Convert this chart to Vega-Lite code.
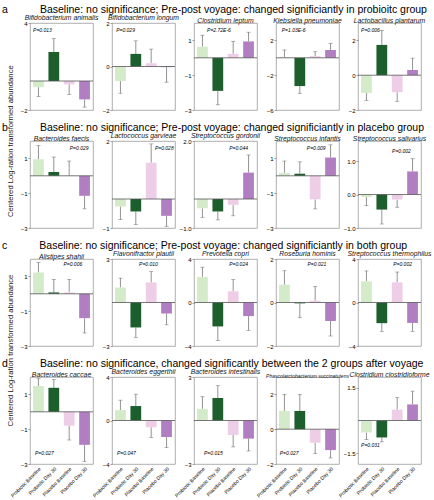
{
  "$schema": "https://vega.github.io/schema/vega-lite/v6.json",
  "padding": {"left": 2, "top": 4, "right": 0, "bottom": 0},
  "datasets": {
    "bars": [
      {"p":"a1","g":"Probiotic Baseline","v":-0.42,"e":-1.08},{"p":"a1","g":"Probiotic Day 30","v":2.0,"e":2.92},{"p":"a1","g":"Placebo Baseline","v":-0.23,"e":-0.92},{"p":"a1","g":"Placebo Day 30","v":-1.27,"e":-1.8},
      {"p":"a2","g":"Probiotic Baseline","v":-0.67,"e":-1.23},{"p":"a2","g":"Probiotic Day 30","v":0.58,"e":1.18},{"p":"a2","g":"Placebo Baseline","v":0.15,"e":0.8},{"p":"a2","g":"Placebo Day 30","v":-0.03,"e":-0.72},
      {"p":"a3","g":"Probiotic Baseline","v":0.64,"e":1.3},{"p":"a3","g":"Probiotic Day 30","v":-1.9,"e":-2.7},{"p":"a3","g":"Placebo Baseline","v":0.23,"e":0.95},{"p":"a3","g":"Placebo Day 30","v":0.94,"e":1.47},
      {"p":"a4","g":"Probiotic Baseline","v":0.08,"e":0.9},{"p":"a4","g":"Probiotic Day 30","v":-3.25,"e":-4.1},{"p":"a4","g":"Placebo Baseline","v":0.19,"e":0.7},{"p":"a4","g":"Placebo Day 30","v":0.9,"e":1.67},
      {"p":"a5","g":"Probiotic Baseline","v":-1.02,"e":-1.45},{"p":"a5","g":"Probiotic Day 30","v":1.74,"e":2.57},{"p":"a5","g":"Placebo Baseline","v":-0.98,"e":-1.5},{"p":"a5","g":"Placebo Day 30","v":0.3,"e":0.98},
      {"p":"b1","g":"Probiotic Baseline","v":0.95,"e":1.73},{"p":"b1","g":"Probiotic Day 30","v":0.22,"e":1.08},{"p":"b1","g":"Placebo Baseline","v":0.02,"e":0.85},{"p":"b1","g":"Placebo Day 30","v":-1.15,"e":-1.9},
      {"p":"b2","g":"Probiotic Baseline","v":-0.26,"e":-0.71},{"p":"b2","g":"Probiotic Day 30","v":-0.43,"e":-0.88},{"p":"b2","g":"Placebo Baseline","v":1.25,"e":1.9},{"p":"b2","g":"Placebo Day 30","v":-0.58,"e":-0.94},
      {"p":"b3","g":"Probiotic Baseline","v":-0.32,"e":-0.63},{"p":"b3","g":"Probiotic Day 30","v":-0.43,"e":-0.72},{"p":"b3","g":"Placebo Baseline","v":-0.2,"e":-0.58},{"p":"b3","g":"Placebo Day 30","v":0.91,"e":1.52},
      {"p":"b4","g":"Probiotic Baseline","v":0.17,"e":0.85},{"p":"b4","g":"Probiotic Day 30","v":0.12,"e":0.8},{"p":"b4","g":"Placebo Baseline","v":-1.35,"e":-1.9},{"p":"b4","g":"Placebo Day 30","v":1.05,"e":1.78},
      {"p":"b5","g":"Probiotic Baseline","v":-0.07,"e":-0.33},{"p":"b5","g":"Probiotic Day 30","v":-0.45,"e":-0.88},{"p":"b5","g":"Placebo Baseline","v":-0.15,"e":-0.38},{"p":"b5","g":"Placebo Day 30","v":0.69,"e":1.07},
      {"p":"c1","g":"Probiotic Baseline","v":1.22,"e":1.8},{"p":"c1","g":"Probiotic Day 30","v":0.08,"e":0.83},{"p":"c1","g":"Placebo Baseline","v":0.08,"e":0.83},{"p":"c1","g":"Placebo Day 30","v":-1.4,"e":-2.25},
      {"p":"c2","g":"Probiotic Baseline","v":1.03,"e":1.68},{"p":"c2","g":"Probiotic Day 30","v":-1.72,"e":-2.4},{"p":"c2","g":"Placebo Baseline","v":1.38,"e":2.13},{"p":"c2","g":"Placebo Day 30","v":-0.76,"e":-1.54},
      {"p":"c3","g":"Probiotic Baseline","v":2.35,"e":3.25},{"p":"c3","g":"Probiotic Day 30","v":-2.2,"e":-3.5},{"p":"c3","g":"Placebo Baseline","v":1.03,"e":2.1},{"p":"c3","g":"Placebo Day 30","v":-1.25,"e":-2.56},
      {"p":"c4","g":"Probiotic Baseline","v":0.82,"e":1.46},{"p":"c4","g":"Probiotic Day 30","v":-0.04,"e":-0.7},{"p":"c4","g":"Placebo Baseline","v":0.08,"e":0.74},{"p":"c4","g":"Placebo Day 30","v":-0.85,"e":-1.54},
      {"p":"c5","g":"Probiotic Baseline","v":1.94,"e":2.9},{"p":"c5","g":"Probiotic Day 30","v":-1.9,"e":-2.65},{"p":"c5","g":"Placebo Baseline","v":1.85,"e":2.8},{"p":"c5","g":"Placebo Day 30","v":-1.88,"e":-2.65},
      {"p":"d1","g":"Probiotic Baseline","v":1.48,"e":1.9},{"p":"d1","g":"Probiotic Day 30","v":1.38,"e":1.85},{"p":"d1","g":"Placebo Baseline","v":-0.8,"e":-1.62},{"p":"d1","g":"Placebo Day 30","v":-1.9,"e":-2.85},
      {"p":"d2","g":"Probiotic Baseline","v":0.95,"e":1.87},{"p":"d2","g":"Probiotic Day 30","v":1.33,"e":2.42},{"p":"d2","g":"Placebo Baseline","v":-0.62,"e":-1.55},{"p":"d2","g":"Placebo Day 30","v":-1.52,"e":-2.5},
      {"p":"d3","g":"Probiotic Baseline","v":0.8,"e":1.64},{"p":"d3","g":"Probiotic Day 30","v":1.55,"e":2.4},{"p":"d3","g":"Placebo Baseline","v":-1.0,"e":-1.82},{"p":"d3","g":"Placebo Day 30","v":-1.25,"e":-2.1},
      {"p":"d4","g":"Probiotic Baseline","v":1.05,"e":2.0},{"p":"d4","g":"Probiotic Day 30","v":1.05,"e":2.0},{"p":"d4","g":"Placebo Baseline","v":-0.78,"e":-1.4},{"p":"d4","g":"Placebo Day 30","v":-1.2,"e":-1.65},
      {"p":"d5","g":"Probiotic Baseline","v":-0.55,"e":-0.87},{"p":"d5","g":"Probiotic Day 30","v":-0.78,"e":-0.98},{"p":"d5","g":"Placebo Baseline","v":0.5,"e":1.05},{"p":"d5","g":"Placebo Day 30","v":0.74,"e":1.35}
    ],
    "ann": [
      {"p":"a1","t":"P=0.013","y":3.53},{"p":"a2","t":"P=0.029","y":1.69},{"p":"a3","t":"P=2.72E-6","y":1.61},{"p":"a4","t":"P=1.03E-6","y":3.22},{"p":"a5","t":"P=0.006","y":2.61},
      {"p":"b1","t":"P=0.029","y":1.62},{"p":"b2","t":"P=0.028","y":1.77},{"p":"b3","t":"P=0.044","y":1.77},{"p":"b4","t":"P=0.009","y":1.62},{"p":"b5","t":"P=0.002","y":1.31},
      {"p":"c1","t":"P=0.006","y":1.71},{"p":"c2","t":"P=0.010","y":2.65},{"p":"c3","t":"P=0.024","y":3.54},{"p":"c4","t":"P=0.021","y":1.77},{"p":"c5","t":"P=0.002","y":3.54},
      {"p":"d1","t":"P=0.027","y":-2.38},{"p":"d2","t":"P=0.047","y":-3.02},{"p":"d3","t":"P=0.015","y":-2.26},{"p":"d4","t":"P=0.027","y":-1.38},{"p":"d5","t":"P=0.031","y":-1.13}
    ]
  },
  "spacing": 8,
  "vconcat": [
    {
      "title": {"text": "Centered Log-ration transformed abundance", "orient": "left", "anchor": "middle", "fontSize": 7.7, "fontStyle": "normal", "offset": -13, "dx": -23, "color": "#222"},
      "spacing": 8,
      "vconcat": [
        {
          "title": {"text": "a\u00a0\u00a0\u00a0\u00a0\u00a0\u00a0\u00a0\u00a0\u00a0\u00a0\u00a0Baseline: no significance; Pre-post voyage: changed significiantly in probioitc group", "anchor": "start", "frame": "group", "dx": -28, "fontSize": 10.5, "fontStyle": "normal", "offset": -1, "color": "#000"},
          "bounds": "flush", "spacing": 19,
          "hconcat": [
            {"width":63,"height":87,"title":"Bifidobacterium animalis","data":{"name":"bars"},"transform":[{"filter":"datum.p=='a1'"}],"layer":[
              {"mark":{"type":"rule","color":"#666","strokeWidth":0.7},"encoding":{"x":{"field":"g","type":"nominal","scale":{"domain":["Probiotic Baseline","Probiotic Day 30","Placebo Baseline","Placebo Day 30"],"paddingInner":0.3,"paddingOuter":0.2},"axis":null},"y":{"field":"v","type":"quantitative","scale":{"domain":[-2,4]},"axis":{"values":[-2,0,2,4],"title":null}},"y2":{"field":"e"}}},
              {"mark":{"type":"tick","color":"#666","thickness":0.7,"size":4},"encoding":{"x":{"field":"g","type":"nominal","scale":{"domain":["Probiotic Baseline","Probiotic Day 30","Placebo Baseline","Placebo Day 30"],"paddingInner":0.3,"paddingOuter":0.2},"axis":null},"y":{"field":"e","type":"quantitative"}}},
              {"mark":"bar","encoding":{"x":{"field":"g","type":"nominal","scale":{"domain":["Probiotic Baseline","Probiotic Day 30","Placebo Baseline","Placebo Day 30"],"paddingInner":0.3,"paddingOuter":0.2},"axis":null},"y":{"field":"v","type":"quantitative"},"color":{"field":"g","type":"nominal","scale":{"domain":["Probiotic Baseline","Probiotic Day 30","Placebo Baseline","Placebo Day 30"],"range":["#d3ebc8","#1d5e2d","#eecde6","#b17ec1"]},"legend":null}}},
              {"data":{"name":"ann"},"transform":[{"filter":"datum.p=='a1'"}],"mark":{"type":"rule","color":"#555","strokeWidth":0.8},"encoding":{"y":{"datum":0}}},
              {"data":{"name":"ann"},"transform":[{"filter":"datum.p=='a1'"}],"mark":{"type":"text","align":"left"},"encoding":{"x":{"datum":"Probiotic Baseline","type":"nominal","bandPosition":0,"scale":{"domain":["Probiotic Baseline","Probiotic Day 30","Placebo Baseline","Placebo Day 30"],"paddingInner":0.3,"paddingOuter":0.2},"axis":null},"y":{"field":"y","type":"quantitative"},"text":{"field":"t"}}}
            ]},
            {"width":63,"height":87,"title":"Bifidobacterium longum","data":{"name":"bars"},"transform":[{"filter":"datum.p=='a2'"}],"layer":[
              {"mark":{"type":"rule","color":"#666","strokeWidth":0.7},"encoding":{"x":{"field":"g","type":"nominal","scale":{"domain":["Probiotic Baseline","Probiotic Day 30","Placebo Baseline","Placebo Day 30"],"paddingInner":0.3,"paddingOuter":0.2},"axis":null},"y":{"field":"v","type":"quantitative","scale":{"domain":[-2,2]},"axis":{"values":[-2,-1,0,1,2],"title":null}},"y2":{"field":"e"}}},
              {"mark":{"type":"tick","color":"#666","thickness":0.7,"size":4},"encoding":{"x":{"field":"g","type":"nominal","scale":{"domain":["Probiotic Baseline","Probiotic Day 30","Placebo Baseline","Placebo Day 30"],"paddingInner":0.3,"paddingOuter":0.2},"axis":null},"y":{"field":"e","type":"quantitative"}}},
              {"mark":"bar","encoding":{"x":{"field":"g","type":"nominal","scale":{"domain":["Probiotic Baseline","Probiotic Day 30","Placebo Baseline","Placebo Day 30"],"paddingInner":0.3,"paddingOuter":0.2},"axis":null},"y":{"field":"v","type":"quantitative"},"color":{"field":"g","type":"nominal","scale":{"domain":["Probiotic Baseline","Probiotic Day 30","Placebo Baseline","Placebo Day 30"],"range":["#d3ebc8","#1d5e2d","#eecde6","#b17ec1"]},"legend":null}}},
              {"data":{"name":"ann"},"transform":[{"filter":"datum.p=='a2'"}],"mark":{"type":"rule","color":"#555","strokeWidth":0.8},"encoding":{"y":{"datum":0}}},
              {"data":{"name":"ann"},"transform":[{"filter":"datum.p=='a2'"}],"mark":{"type":"text","align":"left"},"encoding":{"x":{"datum":"Probiotic Baseline","type":"nominal","bandPosition":0.1,"scale":{"domain":["Probiotic Baseline","Probiotic Day 30","Placebo Baseline","Placebo Day 30"],"paddingInner":0.3,"paddingOuter":0.2},"axis":null},"y":{"field":"y","type":"quantitative"},"text":{"field":"t"}}}
            ]},
            {"width":63,"height":87,"title":"Clostridium leptum","data":{"name":"bars"},"transform":[{"filter":"datum.p=='a3'"}],"layer":[
              {"mark":{"type":"rule","color":"#666","strokeWidth":0.7},"encoding":{"x":{"field":"g","type":"nominal","scale":{"domain":["Probiotic Baseline","Probiotic Day 30","Placebo Baseline","Placebo Day 30"],"paddingInner":0.3,"paddingOuter":0.2},"axis":null},"y":{"field":"v","type":"quantitative","scale":{"domain":[-3,2]},"axis":{"values":[-3,-2,-1,0,1,2],"title":null}},"y2":{"field":"e"}}},
              {"mark":{"type":"tick","color":"#666","thickness":0.7,"size":4},"encoding":{"x":{"field":"g","type":"nominal","scale":{"domain":["Probiotic Baseline","Probiotic Day 30","Placebo Baseline","Placebo Day 30"],"paddingInner":0.3,"paddingOuter":0.2},"axis":null},"y":{"field":"e","type":"quantitative"}}},
              {"mark":"bar","encoding":{"x":{"field":"g","type":"nominal","scale":{"domain":["Probiotic Baseline","Probiotic Day 30","Placebo Baseline","Placebo Day 30"],"paddingInner":0.3,"paddingOuter":0.2},"axis":null},"y":{"field":"v","type":"quantitative"},"color":{"field":"g","type":"nominal","scale":{"domain":["Probiotic Baseline","Probiotic Day 30","Placebo Baseline","Placebo Day 30"],"range":["#d3ebc8","#1d5e2d","#eecde6","#b17ec1"]},"legend":null}}},
              {"data":{"name":"ann"},"transform":[{"filter":"datum.p=='a3'"}],"mark":{"type":"rule","color":"#555","strokeWidth":0.8},"encoding":{"y":{"datum":0}}},
              {"data":{"name":"ann"},"transform":[{"filter":"datum.p=='a3'"}],"mark":{"type":"text","align":"left"},"encoding":{"x":{"datum":"Probiotic Baseline","type":"nominal","bandPosition":0.93,"scale":{"domain":["Probiotic Baseline","Probiotic Day 30","Placebo Baseline","Placebo Day 30"],"paddingInner":0.3,"paddingOuter":0.2},"axis":null},"y":{"field":"y","type":"quantitative"},"text":{"field":"t"}}}
            ]},
            {"width":63,"height":87,"title":"Klebsiella pneumoniae","data":{"name":"bars"},"transform":[{"filter":"datum.p=='a4'"}],"layer":[
              {"mark":{"type":"rule","color":"#666","strokeWidth":0.7},"encoding":{"x":{"field":"g","type":"nominal","scale":{"domain":["Probiotic Baseline","Probiotic Day 30","Placebo Baseline","Placebo Day 30"],"paddingInner":0.3,"paddingOuter":0.2},"axis":null},"y":{"field":"v","type":"quantitative","scale":{"domain":[-6,4]},"axis":{"values":[-6,-4,-2,0,2,4],"title":null}},"y2":{"field":"e"}}},
              {"mark":{"type":"tick","color":"#666","thickness":0.7,"size":4},"encoding":{"x":{"field":"g","type":"nominal","scale":{"domain":["Probiotic Baseline","Probiotic Day 30","Placebo Baseline","Placebo Day 30"],"paddingInner":0.3,"paddingOuter":0.2},"axis":null},"y":{"field":"e","type":"quantitative"}}},
              {"mark":"bar","encoding":{"x":{"field":"g","type":"nominal","scale":{"domain":["Probiotic Baseline","Probiotic Day 30","Placebo Baseline","Placebo Day 30"],"paddingInner":0.3,"paddingOuter":0.2},"axis":null},"y":{"field":"v","type":"quantitative"},"color":{"field":"g","type":"nominal","scale":{"domain":["Probiotic Baseline","Probiotic Day 30","Placebo Baseline","Placebo Day 30"],"range":["#d3ebc8","#1d5e2d","#eecde6","#b17ec1"]},"legend":null}}},
              {"data":{"name":"ann"},"transform":[{"filter":"datum.p=='a4'"}],"mark":{"type":"rule","color":"#555","strokeWidth":0.8},"encoding":{"y":{"datum":0}}},
              {"data":{"name":"ann"},"transform":[{"filter":"datum.p=='a4'"}],"mark":{"type":"text","align":"left"},"encoding":{"x":{"datum":"Probiotic Baseline","type":"nominal","bandPosition":0.25,"scale":{"domain":["Probiotic Baseline","Probiotic Day 30","Placebo Baseline","Placebo Day 30"],"paddingInner":0.3,"paddingOuter":0.2},"axis":null},"y":{"field":"y","type":"quantitative"},"text":{"field":"t"}}}
            ]},
            {"width":63,"height":87,"title":"Lactobacillus plantarum","data":{"name":"bars"},"transform":[{"filter":"datum.p=='a5'"}],"layer":[
              {"mark":{"type":"rule","color":"#666","strokeWidth":0.7},"encoding":{"x":{"field":"g","type":"nominal","scale":{"domain":["Probiotic Baseline","Probiotic Day 30","Placebo Baseline","Placebo Day 30"],"paddingInner":0.3,"paddingOuter":0.2},"axis":null},"y":{"field":"v","type":"quantitative","scale":{"domain":[-2,3]},"axis":{"values":[-2,-1,0,1,2,3],"title":null}},"y2":{"field":"e"}}},
              {"mark":{"type":"tick","color":"#666","thickness":0.7,"size":4},"encoding":{"x":{"field":"g","type":"nominal","scale":{"domain":["Probiotic Baseline","Probiotic Day 30","Placebo Baseline","Placebo Day 30"],"paddingInner":0.3,"paddingOuter":0.2},"axis":null},"y":{"field":"e","type":"quantitative"}}},
              {"mark":"bar","encoding":{"x":{"field":"g","type":"nominal","scale":{"domain":["Probiotic Baseline","Probiotic Day 30","Placebo Baseline","Placebo Day 30"],"paddingInner":0.3,"paddingOuter":0.2},"axis":null},"y":{"field":"v","type":"quantitative"},"color":{"field":"g","type":"nominal","scale":{"domain":["Probiotic Baseline","Probiotic Day 30","Placebo Baseline","Placebo Day 30"],"range":["#d3ebc8","#1d5e2d","#eecde6","#b17ec1"]},"legend":null}}},
              {"data":{"name":"ann"},"transform":[{"filter":"datum.p=='a5'"}],"mark":{"type":"rule","color":"#555","strokeWidth":0.8},"encoding":{"y":{"datum":0}}},
              {"data":{"name":"ann"},"transform":[{"filter":"datum.p=='a5'"}],"mark":{"type":"text","align":"left"},"encoding":{"x":{"datum":"Probiotic Baseline","type":"nominal","bandPosition":0,"scale":{"domain":["Probiotic Baseline","Probiotic Day 30","Placebo Baseline","Placebo Day 30"],"paddingInner":0.3,"paddingOuter":0.2},"axis":null},"y":{"field":"y","type":"quantitative"},"text":{"field":"t"}}}
            ]}
          ]
        },
        {
          "title": {"text": "b\u00a0\u00a0\u00a0\u00a0\u00a0\u00a0\u00a0\u00a0\u00a0\u00a0\u00a0Baseline: no significance; Pre-post voyage: changed significiantly in placebo group", "anchor": "start", "frame": "group", "dx": -28, "fontSize": 10.5, "fontStyle": "normal", "offset": -1, "color": "#000"},
          "bounds": "flush", "spacing": 19,
          "hconcat": [
            {"width":63,"height":87,"title":"Bacteroides faecis","data":{"name":"bars"},"transform":[{"filter":"datum.p=='b1'"}],"layer":[
              {"mark":{"type":"rule","color":"#666","strokeWidth":0.7},"encoding":{"x":{"field":"g","type":"nominal","scale":{"domain":["Probiotic Baseline","Probiotic Day 30","Placebo Baseline","Placebo Day 30"],"paddingInner":0.3,"paddingOuter":0.2},"axis":null},"y":{"field":"v","type":"quantitative","scale":{"domain":[-3,2]},"axis":{"values":[-3,-2,-1,0,1,2],"title":null}},"y2":{"field":"e"}}},
              {"mark":{"type":"tick","color":"#666","thickness":0.7,"size":4},"encoding":{"x":{"field":"g","type":"nominal","scale":{"domain":["Probiotic Baseline","Probiotic Day 30","Placebo Baseline","Placebo Day 30"],"paddingInner":0.3,"paddingOuter":0.2},"axis":null},"y":{"field":"e","type":"quantitative"}}},
              {"mark":"bar","encoding":{"x":{"field":"g","type":"nominal","scale":{"domain":["Probiotic Baseline","Probiotic Day 30","Placebo Baseline","Placebo Day 30"],"paddingInner":0.3,"paddingOuter":0.2},"axis":null},"y":{"field":"v","type":"quantitative"},"color":{"field":"g","type":"nominal","scale":{"domain":["Probiotic Baseline","Probiotic Day 30","Placebo Baseline","Placebo Day 30"],"range":["#d3ebc8","#1d5e2d","#eecde6","#b17ec1"]},"legend":null}}},
              {"data":{"name":"ann"},"transform":[{"filter":"datum.p=='b1'"}],"mark":{"type":"rule","color":"#555","strokeWidth":0.8},"encoding":{"y":{"datum":0}}},
              {"data":{"name":"ann"},"transform":[{"filter":"datum.p=='b1'"}],"mark":{"type":"text","align":"center"},"encoding":{"x":{"datum":"Placebo Day 30","type":"nominal","bandPosition":0,"scale":{"domain":["Probiotic Baseline","Probiotic Day 30","Placebo Baseline","Placebo Day 30"],"paddingInner":0.3,"paddingOuter":0.2},"axis":null},"y":{"field":"y","type":"quantitative"},"text":{"field":"t"}}}
            ]},
            {"width":63,"height":87,"title":"Lactococcus garvieae","data":{"name":"bars"},"transform":[{"filter":"datum.p=='b2'"}],"layer":[
              {"mark":{"type":"rule","color":"#666","strokeWidth":0.7},"encoding":{"x":{"field":"g","type":"nominal","scale":{"domain":["Probiotic Baseline","Probiotic Day 30","Placebo Baseline","Placebo Day 30"],"paddingInner":0.3,"paddingOuter":0.2},"axis":null},"y":{"field":"v","type":"quantitative","scale":{"domain":[-1,2]},"axis":{"values":[-1,0,1,2],"title":null}},"y2":{"field":"e"}}},
              {"mark":{"type":"tick","color":"#666","thickness":0.7,"size":4},"encoding":{"x":{"field":"g","type":"nominal","scale":{"domain":["Probiotic Baseline","Probiotic Day 30","Placebo Baseline","Placebo Day 30"],"paddingInner":0.3,"paddingOuter":0.2},"axis":null},"y":{"field":"e","type":"quantitative"}}},
              {"mark":"bar","encoding":{"x":{"field":"g","type":"nominal","scale":{"domain":["Probiotic Baseline","Probiotic Day 30","Placebo Baseline","Placebo Day 30"],"paddingInner":0.3,"paddingOuter":0.2},"axis":null},"y":{"field":"v","type":"quantitative"},"color":{"field":"g","type":"nominal","scale":{"domain":["Probiotic Baseline","Probiotic Day 30","Placebo Baseline","Placebo Day 30"],"range":["#d3ebc8","#1d5e2d","#eecde6","#b17ec1"]},"legend":null}}},
              {"data":{"name":"ann"},"transform":[{"filter":"datum.p=='b2'"}],"mark":{"type":"rule","color":"#555","strokeWidth":0.8},"encoding":{"y":{"datum":0}}},
              {"data":{"name":"ann"},"transform":[{"filter":"datum.p=='b2'"}],"mark":{"type":"text","align":"center"},"encoding":{"x":{"datum":"Placebo Day 30","type":"nominal","bandPosition":0.29,"scale":{"domain":["Probiotic Baseline","Probiotic Day 30","Placebo Baseline","Placebo Day 30"],"paddingInner":0.3,"paddingOuter":0.2},"axis":null},"y":{"field":"y","type":"quantitative"},"text":{"field":"t"}}}
            ]},
            {"width":63,"height":87,"title":"Streptococcus gordonii","data":{"name":"bars"},"transform":[{"filter":"datum.p=='b3'"}],"layer":[
              {"mark":{"type":"rule","color":"#666","strokeWidth":0.7},"encoding":{"x":{"field":"g","type":"nominal","scale":{"domain":["Probiotic Baseline","Probiotic Day 30","Placebo Baseline","Placebo Day 30"],"paddingInner":0.3,"paddingOuter":0.2},"axis":null},"y":{"field":"v","type":"quantitative","scale":{"domain":[-1,2]},"axis":{"values":[-1,-0.5,0,0.5,1,1.5,2],"format":".1f","title":null}},"y2":{"field":"e"}}},
              {"mark":{"type":"tick","color":"#666","thickness":0.7,"size":4},"encoding":{"x":{"field":"g","type":"nominal","scale":{"domain":["Probiotic Baseline","Probiotic Day 30","Placebo Baseline","Placebo Day 30"],"paddingInner":0.3,"paddingOuter":0.2},"axis":null},"y":{"field":"e","type":"quantitative"}}},
              {"mark":"bar","encoding":{"x":{"field":"g","type":"nominal","scale":{"domain":["Probiotic Baseline","Probiotic Day 30","Placebo Baseline","Placebo Day 30"],"paddingInner":0.3,"paddingOuter":0.2},"axis":null},"y":{"field":"v","type":"quantitative"},"color":{"field":"g","type":"nominal","scale":{"domain":["Probiotic Baseline","Probiotic Day 30","Placebo Baseline","Placebo Day 30"],"range":["#d3ebc8","#1d5e2d","#eecde6","#b17ec1"]},"legend":null}}},
              {"data":{"name":"ann"},"transform":[{"filter":"datum.p=='b3'"}],"mark":{"type":"rule","color":"#555","strokeWidth":0.8},"encoding":{"y":{"datum":0}}},
              {"data":{"name":"ann"},"transform":[{"filter":"datum.p=='b3'"}],"mark":{"type":"text","align":"center"},"encoding":{"x":{"datum":"Placebo Baseline","type":"nominal","bandPosition":1,"scale":{"domain":["Probiotic Baseline","Probiotic Day 30","Placebo Baseline","Placebo Day 30"],"paddingInner":0.3,"paddingOuter":0.2},"axis":null},"y":{"field":"y","type":"quantitative"},"text":{"field":"t"}}}
            ]},
            {"width":63,"height":87,"title":"Streptococcus infantis","data":{"name":"bars"},"transform":[{"filter":"datum.p=='b4'"}],"layer":[
              {"mark":{"type":"rule","color":"#666","strokeWidth":0.7},"encoding":{"x":{"field":"g","type":"nominal","scale":{"domain":["Probiotic Baseline","Probiotic Day 30","Placebo Baseline","Placebo Day 30"],"paddingInner":0.3,"paddingOuter":0.2},"axis":null},"y":{"field":"v","type":"quantitative","scale":{"domain":[-3,2]},"axis":{"values":[-3,-2,-1,0,1,2],"title":null}},"y2":{"field":"e"}}},
              {"mark":{"type":"tick","color":"#666","thickness":0.7,"size":4},"encoding":{"x":{"field":"g","type":"nominal","scale":{"domain":["Probiotic Baseline","Probiotic Day 30","Placebo Baseline","Placebo Day 30"],"paddingInner":0.3,"paddingOuter":0.2},"axis":null},"y":{"field":"e","type":"quantitative"}}},
              {"mark":"bar","encoding":{"x":{"field":"g","type":"nominal","scale":{"domain":["Probiotic Baseline","Probiotic Day 30","Placebo Baseline","Placebo Day 30"],"paddingInner":0.3,"paddingOuter":0.2},"axis":null},"y":{"field":"v","type":"quantitative"},"color":{"field":"g","type":"nominal","scale":{"domain":["Probiotic Baseline","Probiotic Day 30","Placebo Baseline","Placebo Day 30"],"range":["#d3ebc8","#1d5e2d","#eecde6","#b17ec1"]},"legend":null}}},
              {"data":{"name":"ann"},"transform":[{"filter":"datum.p=='b4'"}],"mark":{"type":"rule","color":"#555","strokeWidth":0.8},"encoding":{"y":{"datum":0}}},
              {"data":{"name":"ann"},"transform":[{"filter":"datum.p=='b4'"}],"mark":{"type":"text","align":"center"},"encoding":{"x":{"datum":"Placebo Baseline","type":"nominal","bandPosition":0.6,"scale":{"domain":["Probiotic Baseline","Probiotic Day 30","Placebo Baseline","Placebo Day 30"],"paddingInner":0.3,"paddingOuter":0.2},"axis":null},"y":{"field":"y","type":"quantitative"},"text":{"field":"t"}}}
            ]},
            {"width":63,"height":87,"title":"Streptococcus salivarius","data":{"name":"bars"},"transform":[{"filter":"datum.p=='b5'"}],"layer":[
              {"mark":{"type":"rule","color":"#666","strokeWidth":0.7},"encoding":{"x":{"field":"g","type":"nominal","scale":{"domain":["Probiotic Baseline","Probiotic Day 30","Placebo Baseline","Placebo Day 30"],"paddingInner":0.3,"paddingOuter":0.2},"axis":null},"y":{"field":"v","type":"quantitative","scale":{"domain":[-1,1.5]},"axis":{"values":[-1,-0.5,0,0.5,1,1.5],"format":".1f","title":null}},"y2":{"field":"e"}}},
              {"mark":{"type":"tick","color":"#666","thickness":0.7,"size":4},"encoding":{"x":{"field":"g","type":"nominal","scale":{"domain":["Probiotic Baseline","Probiotic Day 30","Placebo Baseline","Placebo Day 30"],"paddingInner":0.3,"paddingOuter":0.2},"axis":null},"y":{"field":"e","type":"quantitative"}}},
              {"mark":"bar","encoding":{"x":{"field":"g","type":"nominal","scale":{"domain":["Probiotic Baseline","Probiotic Day 30","Placebo Baseline","Placebo Day 30"],"paddingInner":0.3,"paddingOuter":0.2},"axis":null},"y":{"field":"v","type":"quantitative"},"color":{"field":"g","type":"nominal","scale":{"domain":["Probiotic Baseline","Probiotic Day 30","Placebo Baseline","Placebo Day 30"],"range":["#d3ebc8","#1d5e2d","#eecde6","#b17ec1"]},"legend":null}}},
              {"data":{"name":"ann"},"transform":[{"filter":"datum.p=='b5'"}],"mark":{"type":"rule","color":"#555","strokeWidth":0.8},"encoding":{"y":{"datum":0}}},
              {"data":{"name":"ann"},"transform":[{"filter":"datum.p=='b5'"}],"mark":{"type":"text","align":"center"},"encoding":{"x":{"datum":"Placebo Baseline","type":"nominal","bandPosition":0.9,"scale":{"domain":["Probiotic Baseline","Probiotic Day 30","Placebo Baseline","Placebo Day 30"],"paddingInner":0.3,"paddingOuter":0.2},"axis":null},"y":{"field":"y","type":"quantitative"},"text":{"field":"t"}}}
            ]}
          ]
        }
      ]
    },
    {
      "title": {"text": "Centered Log-ration transformed abundance", "orient": "left", "anchor": "middle", "fontSize": 7.7, "fontStyle": "normal", "offset": -13, "dx": 19, "color": "#222"},
      "spacing": 8,
      "vconcat": [
        {
          "title": {"text": "c\u00a0\u00a0\u00a0\u00a0\u00a0\u00a0\u00a0\u00a0\u00a0\u00a0\u00a0Baseline: no significance; Pre-post voyage: changed significiantly in both group", "anchor": "start", "frame": "group", "dx": -28, "fontSize": 10.5, "fontStyle": "normal", "offset": -1, "color": "#000"},
          "bounds": "flush", "spacing": 19,
          "hconcat": [
            {"width":63,"height":87,"title":"Alistipes shahii","data":{"name":"bars"},"transform":[{"filter":"datum.p=='c1'"}],"layer":[
              {"mark":{"type":"rule","color":"#666","strokeWidth":0.7},"encoding":{"x":{"field":"g","type":"nominal","scale":{"domain":["Probiotic Baseline","Probiotic Day 30","Placebo Baseline","Placebo Day 30"],"paddingInner":0.3,"paddingOuter":0.2},"axis":null},"y":{"field":"v","type":"quantitative","scale":{"domain":[-3,2]},"axis":{"values":[-3,-2,-1,0,1,2],"title":null}},"y2":{"field":"e"}}},
              {"mark":{"type":"tick","color":"#666","thickness":0.7,"size":4},"encoding":{"x":{"field":"g","type":"nominal","scale":{"domain":["Probiotic Baseline","Probiotic Day 30","Placebo Baseline","Placebo Day 30"],"paddingInner":0.3,"paddingOuter":0.2},"axis":null},"y":{"field":"e","type":"quantitative"}}},
              {"mark":"bar","encoding":{"x":{"field":"g","type":"nominal","scale":{"domain":["Probiotic Baseline","Probiotic Day 30","Placebo Baseline","Placebo Day 30"],"paddingInner":0.3,"paddingOuter":0.2},"axis":null},"y":{"field":"v","type":"quantitative"},"color":{"field":"g","type":"nominal","scale":{"domain":["Probiotic Baseline","Probiotic Day 30","Placebo Baseline","Placebo Day 30"],"range":["#d3ebc8","#1d5e2d","#eecde6","#b17ec1"]},"legend":null}}},
              {"data":{"name":"ann"},"transform":[{"filter":"datum.p=='c1'"}],"mark":{"type":"rule","color":"#555","strokeWidth":0.8},"encoding":{"y":{"datum":0}}},
              {"data":{"name":"ann"},"transform":[{"filter":"datum.p=='c1'"}],"mark":{"type":"text","align":"center"},"encoding":{"x":{"datum":"Placebo Baseline","type":"nominal","bandPosition":0.84,"scale":{"domain":["Probiotic Baseline","Probiotic Day 30","Placebo Baseline","Placebo Day 30"],"paddingInner":0.3,"paddingOuter":0.2},"axis":null},"y":{"field":"y","type":"quantitative"},"text":{"field":"t"}}}
            ]},
            {"width":63,"height":87,"title":"Flavonifractor plautii","data":{"name":"bars"},"transform":[{"filter":"datum.p=='c2'"}],"layer":[
              {"mark":{"type":"rule","color":"#666","strokeWidth":0.7},"encoding":{"x":{"field":"g","type":"nominal","scale":{"domain":["Probiotic Baseline","Probiotic Day 30","Placebo Baseline","Placebo Day 30"],"paddingInner":0.3,"paddingOuter":0.2},"axis":null},"y":{"field":"v","type":"quantitative","scale":{"domain":[-3,3]},"axis":{"values":[-3,-2,-1,0,1,2,3],"title":null}},"y2":{"field":"e"}}},
              {"mark":{"type":"tick","color":"#666","thickness":0.7,"size":4},"encoding":{"x":{"field":"g","type":"nominal","scale":{"domain":["Probiotic Baseline","Probiotic Day 30","Placebo Baseline","Placebo Day 30"],"paddingInner":0.3,"paddingOuter":0.2},"axis":null},"y":{"field":"e","type":"quantitative"}}},
              {"mark":"bar","encoding":{"x":{"field":"g","type":"nominal","scale":{"domain":["Probiotic Baseline","Probiotic Day 30","Placebo Baseline","Placebo Day 30"],"paddingInner":0.3,"paddingOuter":0.2},"axis":null},"y":{"field":"v","type":"quantitative"},"color":{"field":"g","type":"nominal","scale":{"domain":["Probiotic Baseline","Probiotic Day 30","Placebo Baseline","Placebo Day 30"],"range":["#d3ebc8","#1d5e2d","#eecde6","#b17ec1"]},"legend":null}}},
              {"data":{"name":"ann"},"transform":[{"filter":"datum.p=='c2'"}],"mark":{"type":"rule","color":"#555","strokeWidth":0.8},"encoding":{"y":{"datum":0}}},
              {"data":{"name":"ann"},"transform":[{"filter":"datum.p=='c2'"}],"mark":{"type":"text","align":"center"},"encoding":{"x":{"datum":"Placebo Baseline","type":"nominal","bandPosition":0.25,"scale":{"domain":["Probiotic Baseline","Probiotic Day 30","Placebo Baseline","Placebo Day 30"],"paddingInner":0.3,"paddingOuter":0.2},"axis":null},"y":{"field":"y","type":"quantitative"},"text":{"field":"t"}}}
            ]},
            {"width":63,"height":87,"title":"Prevotella copri","data":{"name":"bars"},"transform":[{"filter":"datum.p=='c3'"}],"layer":[
              {"mark":{"type":"rule","color":"#666","strokeWidth":0.7},"encoding":{"x":{"field":"g","type":"nominal","scale":{"domain":["Probiotic Baseline","Probiotic Day 30","Placebo Baseline","Placebo Day 30"],"paddingInner":0.3,"paddingOuter":0.2},"axis":null},"y":{"field":"v","type":"quantitative","scale":{"domain":[-4,4]},"axis":{"values":[-4,-2,0,2,4],"title":null}},"y2":{"field":"e"}}},
              {"mark":{"type":"tick","color":"#666","thickness":0.7,"size":4},"encoding":{"x":{"field":"g","type":"nominal","scale":{"domain":["Probiotic Baseline","Probiotic Day 30","Placebo Baseline","Placebo Day 30"],"paddingInner":0.3,"paddingOuter":0.2},"axis":null},"y":{"field":"e","type":"quantitative"}}},
              {"mark":"bar","encoding":{"x":{"field":"g","type":"nominal","scale":{"domain":["Probiotic Baseline","Probiotic Day 30","Placebo Baseline","Placebo Day 30"],"paddingInner":0.3,"paddingOuter":0.2},"axis":null},"y":{"field":"v","type":"quantitative"},"color":{"field":"g","type":"nominal","scale":{"domain":["Probiotic Baseline","Probiotic Day 30","Placebo Baseline","Placebo Day 30"],"range":["#d3ebc8","#1d5e2d","#eecde6","#b17ec1"]},"legend":null}}},
              {"data":{"name":"ann"},"transform":[{"filter":"datum.p=='c3'"}],"mark":{"type":"rule","color":"#555","strokeWidth":0.8},"encoding":{"y":{"datum":0}}},
              {"data":{"name":"ann"},"transform":[{"filter":"datum.p=='c3'"}],"mark":{"type":"text","align":"center"},"encoding":{"x":{"datum":"Placebo Baseline","type":"nominal","bandPosition":1,"scale":{"domain":["Probiotic Baseline","Probiotic Day 30","Placebo Baseline","Placebo Day 30"],"paddingInner":0.3,"paddingOuter":0.2},"axis":null},"y":{"field":"y","type":"quantitative"},"text":{"field":"t"}}}
            ]},
            {"width":63,"height":87,"title":"Roseburia hominis","data":{"name":"bars"},"transform":[{"filter":"datum.p=='c4'"}],"layer":[
              {"mark":{"type":"rule","color":"#666","strokeWidth":0.7},"encoding":{"x":{"field":"g","type":"nominal","scale":{"domain":["Probiotic Baseline","Probiotic Day 30","Placebo Baseline","Placebo Day 30"],"paddingInner":0.3,"paddingOuter":0.2},"axis":null},"y":{"field":"v","type":"quantitative","scale":{"domain":[-2,2]},"axis":{"values":[-2,-1,0,1,2],"title":null}},"y2":{"field":"e"}}},
              {"mark":{"type":"tick","color":"#666","thickness":0.7,"size":4},"encoding":{"x":{"field":"g","type":"nominal","scale":{"domain":["Probiotic Baseline","Probiotic Day 30","Placebo Baseline","Placebo Day 30"],"paddingInner":0.3,"paddingOuter":0.2},"axis":null},"y":{"field":"e","type":"quantitative"}}},
              {"mark":"bar","encoding":{"x":{"field":"g","type":"nominal","scale":{"domain":["Probiotic Baseline","Probiotic Day 30","Placebo Baseline","Placebo Day 30"],"paddingInner":0.3,"paddingOuter":0.2},"axis":null},"y":{"field":"v","type":"quantitative"},"color":{"field":"g","type":"nominal","scale":{"domain":["Probiotic Baseline","Probiotic Day 30","Placebo Baseline","Placebo Day 30"],"range":["#d3ebc8","#1d5e2d","#eecde6","#b17ec1"]},"legend":null}}},
              {"data":{"name":"ann"},"transform":[{"filter":"datum.p=='c4'"}],"mark":{"type":"rule","color":"#555","strokeWidth":0.8},"encoding":{"y":{"datum":0}}},
              {"data":{"name":"ann"},"transform":[{"filter":"datum.p=='c4'"}],"mark":{"type":"text","align":"center"},"encoding":{"x":{"datum":"Placebo Baseline","type":"nominal","bandPosition":0.66,"scale":{"domain":["Probiotic Baseline","Probiotic Day 30","Placebo Baseline","Placebo Day 30"],"paddingInner":0.3,"paddingOuter":0.2},"axis":null},"y":{"field":"y","type":"quantitative"},"text":{"field":"t"}}}
            ]},
            {"width":63,"height":87,"title":"Streptococcus thermophilus","data":{"name":"bars"},"transform":[{"filter":"datum.p=='c5'"}],"layer":[
              {"mark":{"type":"rule","color":"#666","strokeWidth":0.7},"encoding":{"x":{"field":"g","type":"nominal","scale":{"domain":["Probiotic Baseline","Probiotic Day 30","Placebo Baseline","Placebo Day 30"],"paddingInner":0.3,"paddingOuter":0.2},"axis":null},"y":{"field":"v","type":"quantitative","scale":{"domain":[-4,4]},"axis":{"values":[-4,-2,0,2,4],"title":null}},"y2":{"field":"e"}}},
              {"mark":{"type":"tick","color":"#666","thickness":0.7,"size":4},"encoding":{"x":{"field":"g","type":"nominal","scale":{"domain":["Probiotic Baseline","Probiotic Day 30","Placebo Baseline","Placebo Day 30"],"paddingInner":0.3,"paddingOuter":0.2},"axis":null},"y":{"field":"e","type":"quantitative"}}},
              {"mark":"bar","encoding":{"x":{"field":"g","type":"nominal","scale":{"domain":["Probiotic Baseline","Probiotic Day 30","Placebo Baseline","Placebo Day 30"],"paddingInner":0.3,"paddingOuter":0.2},"axis":null},"y":{"field":"v","type":"quantitative"},"color":{"field":"g","type":"nominal","scale":{"domain":["Probiotic Baseline","Probiotic Day 30","Placebo Baseline","Placebo Day 30"],"range":["#d3ebc8","#1d5e2d","#eecde6","#b17ec1"]},"legend":null}}},
              {"data":{"name":"ann"},"transform":[{"filter":"datum.p=='c5'"}],"mark":{"type":"rule","color":"#555","strokeWidth":0.8},"encoding":{"y":{"datum":0}}},
              {"data":{"name":"ann"},"transform":[{"filter":"datum.p=='c5'"}],"mark":{"type":"text","align":"center"},"encoding":{"x":{"datum":"Placebo Baseline","type":"nominal","bandPosition":1,"scale":{"domain":["Probiotic Baseline","Probiotic Day 30","Placebo Baseline","Placebo Day 30"],"paddingInner":0.3,"paddingOuter":0.2},"axis":null},"y":{"field":"y","type":"quantitative"},"text":{"field":"t"}}}
            ]}
          ]
        },
        {
          "title": {"text": "d\u00a0\u00a0\u00a0\u00a0\u00a0\u00a0\u00a0\u00a0\u00a0\u00a0\u00a0Baseline: no significance, changed significantly between the 2 groups after voyage", "anchor": "start", "frame": "group", "dx": -28, "fontSize": 10.5, "fontStyle": "normal", "offset": -1, "color": "#000"},
          "bounds": "flush", "spacing": 19,
          "hconcat": [
            {"width":63,"height":87,"title":"Bacteroides caccae","data":{"name":"bars"},"transform":[{"filter":"datum.p=='d1'"}],"layer":[
              {"mark":{"type":"rule","color":"#666","strokeWidth":0.7},"encoding":{"x":{"field":"g","type":"nominal","scale":{"domain":["Probiotic Baseline","Probiotic Day 30","Placebo Baseline","Placebo Day 30"],"paddingInner":0.3,"paddingOuter":0.2},"axis":{"title":null,"labelAngle":-45,"labelFontSize":5,"ticks":false,"domain":false,"labelPadding":2}},"y":{"field":"v","type":"quantitative","scale":{"domain":[-3,2]},"axis":{"values":[-3,-2,-1,0,1,2],"title":null}},"y2":{"field":"e"}}},
              {"mark":{"type":"tick","color":"#666","thickness":0.7,"size":4},"encoding":{"x":{"field":"g","type":"nominal","scale":{"domain":["Probiotic Baseline","Probiotic Day 30","Placebo Baseline","Placebo Day 30"],"paddingInner":0.3,"paddingOuter":0.2},"axis":{"title":null,"labelAngle":-45,"labelFontSize":5,"ticks":false,"domain":false,"labelPadding":2}},"y":{"field":"e","type":"quantitative"}}},
              {"mark":"bar","encoding":{"x":{"field":"g","type":"nominal","scale":{"domain":["Probiotic Baseline","Probiotic Day 30","Placebo Baseline","Placebo Day 30"],"paddingInner":0.3,"paddingOuter":0.2},"axis":{"title":null,"labelAngle":-45,"labelFontSize":5,"ticks":false,"domain":false,"labelPadding":2}},"y":{"field":"v","type":"quantitative"},"color":{"field":"g","type":"nominal","scale":{"domain":["Probiotic Baseline","Probiotic Day 30","Placebo Baseline","Placebo Day 30"],"range":["#d3ebc8","#1d5e2d","#eecde6","#b17ec1"]},"legend":null}}},
              {"data":{"name":"ann"},"transform":[{"filter":"datum.p=='d1'"}],"mark":{"type":"rule","color":"#555","strokeWidth":0.8},"encoding":{"y":{"datum":0}}},
              {"data":{"name":"ann"},"transform":[{"filter":"datum.p=='d1'"}],"mark":{"type":"text","align":"left"},"encoding":{"x":{"datum":"Probiotic Baseline","type":"nominal","bandPosition":0.18,"scale":{"domain":["Probiotic Baseline","Probiotic Day 30","Placebo Baseline","Placebo Day 30"],"paddingInner":0.3,"paddingOuter":0.2},"axis":{"title":null,"labelAngle":-45,"labelFontSize":5,"ticks":false,"domain":false,"labelPadding":2}},"y":{"field":"y","type":"quantitative"},"text":{"field":"t"}}}
            ]},
            {"width":63,"height":87,"title":"Bacteroides eggerthii","data":{"name":"bars"},"transform":[{"filter":"datum.p=='d2'"}],"layer":[
              {"mark":{"type":"rule","color":"#666","strokeWidth":0.7},"encoding":{"x":{"field":"g","type":"nominal","scale":{"domain":["Probiotic Baseline","Probiotic Day 30","Placebo Baseline","Placebo Day 30"],"paddingInner":0.3,"paddingOuter":0.2},"axis":{"title":null,"labelAngle":-45,"labelFontSize":5,"ticks":false,"domain":false,"labelPadding":2}},"y":{"field":"v","type":"quantitative","scale":{"domain":[-4,4]},"axis":{"values":[-4,-2,0,2,4],"title":null}},"y2":{"field":"e"}}},
              {"mark":{"type":"tick","color":"#666","thickness":0.7,"size":4},"encoding":{"x":{"field":"g","type":"nominal","scale":{"domain":["Probiotic Baseline","Probiotic Day 30","Placebo Baseline","Placebo Day 30"],"paddingInner":0.3,"paddingOuter":0.2},"axis":{"title":null,"labelAngle":-45,"labelFontSize":5,"ticks":false,"domain":false,"labelPadding":2}},"y":{"field":"e","type":"quantitative"}}},
              {"mark":"bar","encoding":{"x":{"field":"g","type":"nominal","scale":{"domain":["Probiotic Baseline","Probiotic Day 30","Placebo Baseline","Placebo Day 30"],"paddingInner":0.3,"paddingOuter":0.2},"axis":{"title":null,"labelAngle":-45,"labelFontSize":5,"ticks":false,"domain":false,"labelPadding":2}},"y":{"field":"v","type":"quantitative"},"color":{"field":"g","type":"nominal","scale":{"domain":["Probiotic Baseline","Probiotic Day 30","Placebo Baseline","Placebo Day 30"],"range":["#d3ebc8","#1d5e2d","#eecde6","#b17ec1"]},"legend":null}}},
              {"data":{"name":"ann"},"transform":[{"filter":"datum.p=='d2'"}],"mark":{"type":"rule","color":"#555","strokeWidth":0.8},"encoding":{"y":{"datum":0}}},
              {"data":{"name":"ann"},"transform":[{"filter":"datum.p=='d2'"}],"mark":{"type":"text","align":"left"},"encoding":{"x":{"datum":"Probiotic Baseline","type":"nominal","bandPosition":0.18,"scale":{"domain":["Probiotic Baseline","Probiotic Day 30","Placebo Baseline","Placebo Day 30"],"paddingInner":0.3,"paddingOuter":0.2},"axis":{"title":null,"labelAngle":-45,"labelFontSize":5,"ticks":false,"domain":false,"labelPadding":2}},"y":{"field":"y","type":"quantitative"},"text":{"field":"t"}}}
            ]},
            {"width":63,"height":87,"title":"Bacteroides intestinalis","data":{"name":"bars"},"transform":[{"filter":"datum.p=='d3'"}],"layer":[
              {"mark":{"type":"rule","color":"#666","strokeWidth":0.7},"encoding":{"x":{"field":"g","type":"nominal","scale":{"domain":["Probiotic Baseline","Probiotic Day 30","Placebo Baseline","Placebo Day 30"],"paddingInner":0.3,"paddingOuter":0.2},"axis":{"title":null,"labelAngle":-45,"labelFontSize":5,"ticks":false,"domain":false,"labelPadding":2}},"y":{"field":"v","type":"quantitative","scale":{"domain":[-3,3]},"axis":{"values":[-3,-2,-1,0,1,2,3],"title":null}},"y2":{"field":"e"}}},
              {"mark":{"type":"tick","color":"#666","thickness":0.7,"size":4},"encoding":{"x":{"field":"g","type":"nominal","scale":{"domain":["Probiotic Baseline","Probiotic Day 30","Placebo Baseline","Placebo Day 30"],"paddingInner":0.3,"paddingOuter":0.2},"axis":{"title":null,"labelAngle":-45,"labelFontSize":5,"ticks":false,"domain":false,"labelPadding":2}},"y":{"field":"e","type":"quantitative"}}},
              {"mark":"bar","encoding":{"x":{"field":"g","type":"nominal","scale":{"domain":["Probiotic Baseline","Probiotic Day 30","Placebo Baseline","Placebo Day 30"],"paddingInner":0.3,"paddingOuter":0.2},"axis":{"title":null,"labelAngle":-45,"labelFontSize":5,"ticks":false,"domain":false,"labelPadding":2}},"y":{"field":"v","type":"quantitative"},"color":{"field":"g","type":"nominal","scale":{"domain":["Probiotic Baseline","Probiotic Day 30","Placebo Baseline","Placebo Day 30"],"range":["#d3ebc8","#1d5e2d","#eecde6","#b17ec1"]},"legend":null}}},
              {"data":{"name":"ann"},"transform":[{"filter":"datum.p=='d3'"}],"mark":{"type":"rule","color":"#555","strokeWidth":0.8},"encoding":{"y":{"datum":0}}},
              {"data":{"name":"ann"},"transform":[{"filter":"datum.p=='d3'"}],"mark":{"type":"text","align":"left"},"encoding":{"x":{"datum":"Probiotic Baseline","type":"nominal","bandPosition":0.64,"scale":{"domain":["Probiotic Baseline","Probiotic Day 30","Placebo Baseline","Placebo Day 30"],"paddingInner":0.3,"paddingOuter":0.2},"axis":{"title":null,"labelAngle":-45,"labelFontSize":5,"ticks":false,"domain":false,"labelPadding":2}},"y":{"field":"y","type":"quantitative"},"text":{"field":"t"}}}
            ]},
            {"width":63,"height":87,"title":{"text":"Phascolarctobacterium succinatutens","fontSize":5},"data":{"name":"bars"},"transform":[{"filter":"datum.p=='d4'"}],"layer":[
              {"mark":{"type":"rule","color":"#666","strokeWidth":0.7},"encoding":{"x":{"field":"g","type":"nominal","scale":{"domain":["Probiotic Baseline","Probiotic Day 30","Placebo Baseline","Placebo Day 30"],"paddingInner":0.3,"paddingOuter":0.2},"axis":{"title":null,"labelAngle":-45,"labelFontSize":5,"ticks":false,"domain":false,"labelPadding":2}},"y":{"field":"v","type":"quantitative","scale":{"domain":[-2,3]},"axis":{"values":[-2,-1,0,1,2,3],"title":null}},"y2":{"field":"e"}}},
              {"mark":{"type":"tick","color":"#666","thickness":0.7,"size":4},"encoding":{"x":{"field":"g","type":"nominal","scale":{"domain":["Probiotic Baseline","Probiotic Day 30","Placebo Baseline","Placebo Day 30"],"paddingInner":0.3,"paddingOuter":0.2},"axis":{"title":null,"labelAngle":-45,"labelFontSize":5,"ticks":false,"domain":false,"labelPadding":2}},"y":{"field":"e","type":"quantitative"}}},
              {"mark":"bar","encoding":{"x":{"field":"g","type":"nominal","scale":{"domain":["Probiotic Baseline","Probiotic Day 30","Placebo Baseline","Placebo Day 30"],"paddingInner":0.3,"paddingOuter":0.2},"axis":{"title":null,"labelAngle":-45,"labelFontSize":5,"ticks":false,"domain":false,"labelPadding":2}},"y":{"field":"v","type":"quantitative"},"color":{"field":"g","type":"nominal","scale":{"domain":["Probiotic Baseline","Probiotic Day 30","Placebo Baseline","Placebo Day 30"],"range":["#d3ebc8","#1d5e2d","#eecde6","#b17ec1"]},"legend":null}}},
              {"data":{"name":"ann"},"transform":[{"filter":"datum.p=='d4'"}],"mark":{"type":"rule","color":"#555","strokeWidth":0.8},"encoding":{"y":{"datum":0}}},
              {"data":{"name":"ann"},"transform":[{"filter":"datum.p=='d4'"}],"mark":{"type":"text","align":"left"},"encoding":{"x":{"datum":"Probiotic Baseline","type":"nominal","bandPosition":0.06,"scale":{"domain":["Probiotic Baseline","Probiotic Day 30","Placebo Baseline","Placebo Day 30"],"paddingInner":0.3,"paddingOuter":0.2},"axis":{"title":null,"labelAngle":-45,"labelFontSize":5,"ticks":false,"domain":false,"labelPadding":2}},"y":{"field":"y","type":"quantitative"},"text":{"field":"t"}}}
            ]},
            {"width":63,"height":87,"title":"Clostridium clostridioforme","data":{"name":"bars"},"transform":[{"filter":"datum.p=='d5'"}],"layer":[
              {"mark":{"type":"rule","color":"#666","strokeWidth":0.7},"encoding":{"x":{"field":"g","type":"nominal","scale":{"domain":["Probiotic Baseline","Probiotic Day 30","Placebo Baseline","Placebo Day 30"],"paddingInner":0.3,"paddingOuter":0.2},"axis":{"title":null,"labelAngle":-45,"labelFontSize":5,"ticks":false,"domain":false,"labelPadding":2}},"y":{"field":"v","type":"quantitative","scale":{"domain":[-1.5,1.5]},"axis":{"values":[-1.5,-1,-0.5,0,0.5,1,1.5],"format":".1f","title":null}},"y2":{"field":"e"}}},
              {"mark":{"type":"tick","color":"#666","thickness":0.7,"size":4},"encoding":{"x":{"field":"g","type":"nominal","scale":{"domain":["Probiotic Baseline","Probiotic Day 30","Placebo Baseline","Placebo Day 30"],"paddingInner":0.3,"paddingOuter":0.2},"axis":{"title":null,"labelAngle":-45,"labelFontSize":5,"ticks":false,"domain":false,"labelPadding":2}},"y":{"field":"e","type":"quantitative"}}},
              {"mark":"bar","encoding":{"x":{"field":"g","type":"nominal","scale":{"domain":["Probiotic Baseline","Probiotic Day 30","Placebo Baseline","Placebo Day 30"],"paddingInner":0.3,"paddingOuter":0.2},"axis":{"title":null,"labelAngle":-45,"labelFontSize":5,"ticks":false,"domain":false,"labelPadding":2}},"y":{"field":"v","type":"quantitative"},"color":{"field":"g","type":"nominal","scale":{"domain":["Probiotic Baseline","Probiotic Day 30","Placebo Baseline","Placebo Day 30"],"range":["#d3ebc8","#1d5e2d","#eecde6","#b17ec1"]},"legend":null}}},
              {"data":{"name":"ann"},"transform":[{"filter":"datum.p=='d5'"}],"mark":{"type":"rule","color":"#555","strokeWidth":0.8},"encoding":{"y":{"datum":0}}},
              {"data":{"name":"ann"},"transform":[{"filter":"datum.p=='d5'"}],"mark":{"type":"text","align":"left"},"encoding":{"x":{"datum":"Probiotic Baseline","type":"nominal","bandPosition":0,"scale":{"domain":["Probiotic Baseline","Probiotic Day 30","Placebo Baseline","Placebo Day 30"],"paddingInner":0.3,"paddingOuter":0.2},"axis":{"title":null,"labelAngle":-45,"labelFontSize":5,"ticks":false,"domain":false,"labelPadding":2}},"y":{"field":"y","type":"quantitative"},"text":{"field":"t"}}}
            ]}
          ]
        }
      ]
    }
  ],
  "config": {
    "font": "Liberation Sans",
    "view": {"stroke": "#9a9a9a", "strokeWidth": 0.8},
    "axis": {"labelFontSize": 6, "labelColor": "#000", "domain": false, "grid": false, "tickSize": 2, "tickColor": "#666", "tickWidth": 0.6, "labelPadding": 1, "labelOverlap": false, "labelBound": false},
    "title": {"fontSize": 6.8, "fontStyle": "italic", "fontWeight": "normal", "offset": -1.5, "color": "#111"},
    "text": {"fontSize": 5, "fontStyle": "italic", "baseline": "middle", "color": "#000"}
  }
}
